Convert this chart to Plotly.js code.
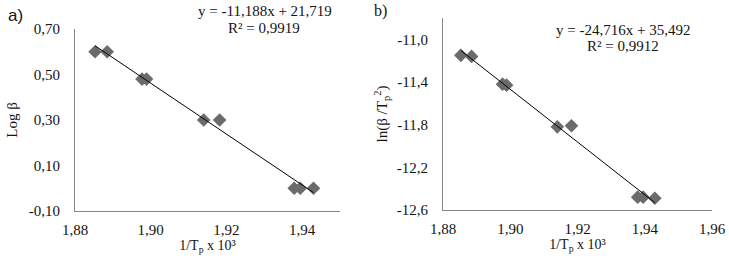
<!DOCTYPE html>
<html><head><meta charset="utf-8">
<script src="https://cdn.plot.ly/plotly-3.0.1.min.js"></script>
<style>html,body{margin:0;padding:0;background:#fff}#chart{width:729px;height:261px}</style>
</head><body><div id="chart"></div>
<script>
// 1/Tp x 10^3 values (shared by both panels)
const invTp = [1.8853, 1.8885, 1.8977, 1.8989, 1.9140, 1.9182, 1.9379, 1.9395, 1.9430];
// panel a) Log beta
const logBeta = [0.60, 0.60, 0.48, 0.48, 0.30, 0.30, 0.00, 0.00, 0.00];
// panel b) ln(beta/Tp^2)
const lnBetaTp2 = [-11.15, -11.16, -11.42, -11.43, -11.82, -11.81, -12.48, -12.48, -12.49];
// linear trendlines (slope, intercept) as printed on the chart
const slopes = [-11.188, -24.716];
const intercepts = [21.719, 35.492];
const r2 = ['0,9919', '0,9912'];
const eqText = ['y = -11,188x + 21,719', 'y = -24,716x + 35,492'];
// tick values / labels
const xTickVals = [1.88, 1.90, 1.92, 1.94, 1.96];
const xTickText = ['1,88', '1,90', '1,92', '1,94', '1,96'];
const yTickValsA = [-0.10, 0.10, 0.30, 0.50, 0.70];
const yTickTextA = ['-0,10', '0,10', '0,30', '0,50', '0,70'];
const yTickValsB = [-12.6, -12.2, -11.8, -11.4, -11.0];
const yTickTextB = ['-12,6', '-12,2', '-11,8', '-11,4', '-11,0'];

const W = 729, H = 261;
const px = v => v / W, py = v => 1 - v / H;

const xMin = Math.min(...invTp), xMax = Math.max(...invTp);
const trendX = [xMin, xMax];
const trendA = trendX.map(x => slopes[0] * x + intercepts[0]);
const trendB = trendX.map(x => slopes[1] * x + intercepts[1]);

const serif = '"Liberation Serif", "Times New Roman", serif';
const txt = '#141414';
const markerStyle = {symbol: 'diamond', size: 10.5, color: '#6b6b6b', line: {width: 0}};

const traces = [
  {x: invTp, y: logBeta, type: 'scatter', mode: 'markers', marker: markerStyle, xaxis: 'x', yaxis: 'y', hoverinfo: 'skip'},
  {x: trendX, y: trendA, type: 'scatter', mode: 'lines', line: {color: '#000', width: 1}, xaxis: 'x', yaxis: 'y', hoverinfo: 'skip'},
  {x: invTp, y: lnBetaTp2, type: 'scatter', mode: 'markers', marker: markerStyle, xaxis: 'x2', yaxis: 'y2', hoverinfo: 'skip'},
  {x: trendX, y: trendB, type: 'scatter', mode: 'lines', line: {color: '#000', width: 1}, xaxis: 'x2', yaxis: 'y2', hoverinfo: 'skip'}
];

const axisCommon = {
  showline: true, linecolor: '#868686', linewidth: 1, showgrid: false, zeroline: false,
  ticks: '', tickfont: {family: serif, size: 15, color: txt}, tickmode: 'array', automargin: false
};

const xTitle = '1/T<sub>p</sub> x 10³';

const layout = {
  width: W, height: H, margin: {l: 0, r: 0, t: 0, b: 0},
  paper_bgcolor: '#fff', plot_bgcolor: '#fff', showlegend: false,
  xaxis: Object.assign({}, axisCommon, {
    domain: [px(75), px(340)], range: [1.88, 1.95], anchor: 'y',
    tickvals: xTickVals.slice(0, 4), ticktext: xTickText.slice(0, 4), ticklabelstandoff: 5,
    title: {text: xTitle, font: {family: serif, size: 14, color: txt}, standoff: 2}
  }),
  yaxis: Object.assign({}, axisCommon, {
    domain: [py(211), py(29)], range: [-0.10, 0.70], anchor: 'x',
    tickvals: yTickValsA, ticktext: yTickTextA, ticklabelstandoff: 11,
    title: {text: 'Log β', font: {family: serif, size: 15, color: txt}, standoff: 7}
  }),
  xaxis2: Object.assign({}, axisCommon, {
    domain: [px(443), px(712)], range: [1.88, 1.96], anchor: 'y2',
    tickvals: xTickVals, ticktext: xTickText, ticklabelstandoff: 5,
    title: {text: xTitle, font: {family: serif, size: 14, color: txt}, standoff: 2}
  }),
  yaxis2: Object.assign({}, axisCommon, {
    domain: [py(210), py(18)], range: [-12.6, -10.8], anchor: 'x2',
    tickvals: yTickValsB, ticktext: yTickTextB, ticklabelstandoff: 11,
    title: {text: 'ln(β /T<sub>p</sub><sup>2</sup>)', font: {family: serif, size: 15, color: txt}, standoff: 5}
  }),
  annotations: [
    {xref: 'paper', yref: 'paper', x: px(16), y: py(15), text: 'a)', showarrow: false,
     font: {family: '"Liberation Sans", Arial, sans-serif', size: 17, color: txt}, xanchor: 'center', yanchor: 'middle'},
    {xref: 'paper', yref: 'paper', x: px(380), y: py(11), text: 'b)', showarrow: false,
     font: {family: serif, size: 16, color: txt}, xanchor: 'center', yanchor: 'middle'},
    {xref: 'paper', yref: 'paper', x: px(265), y: py(11), text: eqText[0], showarrow: false,
     font: {family: serif, size: 15, color: txt}, xanchor: 'center', yanchor: 'middle'},
    {xref: 'paper', yref: 'paper', x: px(264), y: py(28), text: 'R² = ' + r2[0], showarrow: false,
     font: {family: serif, size: 15, color: txt}, xanchor: 'center', yanchor: 'middle'},
    {xref: 'paper', yref: 'paper', x: px(623), y: py(30), text: eqText[1], showarrow: false,
     font: {family: serif, size: 15, color: txt}, xanchor: 'center', yanchor: 'middle'},
    {xref: 'paper', yref: 'paper', x: px(623), y: py(46), text: 'R² = ' + r2[1], showarrow: false,
     font: {family: serif, size: 15, color: txt}, xanchor: 'center', yanchor: 'middle'}
  ]
};

Plotly.newPlot('chart', traces, layout, {displayModeBar: false, staticPlot: true});
</script>
</body></html>
